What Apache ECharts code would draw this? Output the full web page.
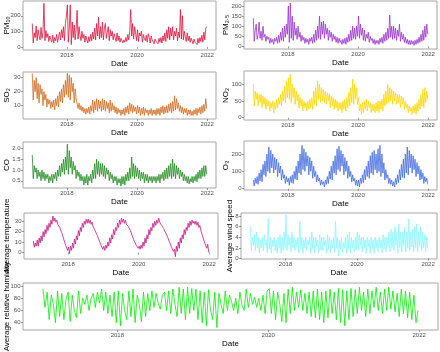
<!DOCTYPE html>
<html>
<head>
<meta charset="utf-8">
<script src="https://cdn.jsdelivr.net/npm/echarts@6/dist/echarts.min.js"></script>
<style>
  html, body { margin: 0; background: #fff; }
  #chart { width: 440px; height: 352px; }
</style>
</head>
<body>
<div id="chart"></div>
<script>
// readings every ~10 days, 2017-01 .. 2021-12 (36 per year)
const startYear = 2017
const stepsPerYear = 36
const yearTicks = [2018, 2020, 2022]

const pm10 = [
  150,25,90,60,135,40,110,70,45,125,55,95,280,40,105,60,85,35,70,50,30,75,25,60,40,80,30,65,95,45,110,60,130,40,150,200,
  270,30,120,270,15,160,60,140,45,110,235,50,130,75,40,100,55,80,30,70,45,25,65,35,80,40,95,50,120,45,150,70,190,50,130,60,
  160,45,120,150,55,95,130,40,110,70,100,45,85,60,35,90,40,70,30,55,60,25,45,30,60,35,80,45,100,240,70,150,50,130,90,40,
  110,35,90,70,100,30,80,55,40,75,30,85,60,25,70,45,55,20,50,35,45,20,55,30,60,25,70,40,90,35,110,55,130,45,120,70,
  130,45,100,70,120,40,95,60,240,50,200,45,100,65,35,90,40,70,30,55,45,20,50,30,40,15,55,25,60,35,75,30,95,45,120,130
]
const pm25 = [
  140,25,80,110,35,60,120,40,75,30,100,45,60,25,50,35,45,15,40,20,35,10,40,25,45,15,55,20,70,30,90,25,100,45,110,60,
  200,20,215,40,150,30,120,55,90,35,100,45,70,25,55,30,45,15,40,20,35,10,40,25,45,15,60,20,80,30,100,40,150,35,120,60,
  125,40,110,60,90,30,80,45,70,25,60,35,50,20,45,15,40,20,30,10,35,15,40,10,45,20,60,25,80,30,100,40,90,35,100,50,
  150,40,110,55,90,30,80,25,60,40,70,20,50,30,40,15,35,10,30,15,30,10,40,20,45,15,60,25,70,30,90,40,155,45,100,35,
  100,40,90,30,80,50,110,25,70,35,60,20,45,15,35,10,30,8,30,12,25,5,30,10,35,15,45,20,60,25,80,30,100,45,110,60
]
const so2 = [
  33,14,28,20,30,15,26,12,25,18,22,10,20,14,18,9,15,11,14,8,13,9,14,7,15,10,17,9,20,13,22,12,25,16,28,18,
  33,16,32,14,30,20,26,12,22,15,15,8,12,7,10,6,9,5,8,4,8,5,9,4,10,6,14,5,13,7,15,6,14,8,13,6,
  15,7,14,6,13,8,12,5,14,6,12,7,10,5,9,4,8,5,7,3,7,4,8,3,9,5,10,4,12,6,11,5,10,6,9,4,
  10,5,9,3,8,4,9,3,8,5,7,3,7,4,8,3,7,4,7,3,8,4,8,3,9,5,10,4,9,5,10,5,11,6,12,5,
  13,6,17,7,15,8,12,6,10,5,9,4,8,5,8,3,7,4,7,3,6,3,7,4,8,3,8,5,9,4,10,5,11,6,15,8
]
const no2 = [
  100,35,80,55,75,35,70,45,70,30,65,40,60,25,55,35,50,20,45,30,50,15,45,25,55,30,60,40,70,35,80,50,95,45,110,60,
  120,55,130,45,100,60,90,40,80,50,70,30,60,35,55,20,50,30,45,20,50,25,55,30,60,25,80,40,90,35,110,55,100,45,90,50,
  85,45,80,40,75,50,70,30,65,35,60,25,55,30,50,20,45,25,45,15,50,25,55,20,60,30,75,35,90,45,115,40,100,55,90,40,
  60,20,40,10,45,15,50,25,55,20,50,30,45,15,40,20,40,15,45,20,50,15,50,25,55,20,70,35,80,40,100,45,90,50,85,40,
  80,50,75,40,70,45,70,30,65,40,60,25,50,30,40,15,35,20,30,10,35,15,40,10,45,20,55,25,70,35,85,30,90,45,80,55
]
const co = [
  1.7,0.6,1.2,0.9,1.1,0.6,1.0,0.7,0.9,0.5,1.0,0.6,0.9,0.5,0.8,0.6,0.8,0.4,0.7,0.5,0.8,0.4,0.8,0.6,0.9,0.5,1.0,0.7,1.2,0.7,1.3,0.9,1.5,0.8,1.6,1.0,
  2.2,0.8,1.9,1.1,1.6,0.8,1.4,1.0,1.2,0.6,1.0,0.7,0.9,0.5,0.8,0.5,0.7,0.3,0.7,0.4,0.8,0.3,0.7,0.5,0.8,0.4,1.0,0.6,1.3,0.6,1.5,0.8,1.4,0.7,1.3,0.8,
  1.3,0.7,1.2,0.6,1.1,0.8,1.0,0.5,0.9,0.6,0.8,0.4,0.7,0.5,0.7,0.3,0.6,0.4,0.6,0.25,0.7,0.35,0.7,0.3,0.8,0.5,0.9,0.5,1.1,0.6,1.6,0.7,1.3,0.6,1.2,0.7,
  1.1,0.6,1.0,0.5,0.9,0.6,0.9,0.4,0.8,0.5,0.8,0.4,0.7,0.5,0.7,0.4,0.7,0.5,0.7,0.4,0.7,0.5,0.8,0.4,0.8,0.6,0.9,0.5,1.0,0.6,1.1,0.6,1.2,0.7,1.3,0.6,
  1.5,0.7,1.3,0.6,1.2,0.8,1.1,0.6,1.0,0.7,0.9,0.5,0.8,0.5,0.7,0.4,0.7,0.35,0.6,0.45,0.7,0.4,0.7,0.5,0.8,0.45,0.9,0.6,1.0,0.6,1.1,0.7,1.2,0.7,1.2,0.8
]
const o3 = [
  50,15,60,30,70,25,90,45,110,40,140,80,160,70,200,100,240,90,220,120,200,90,180,110,170,70,150,90,130,50,110,60,80,30,70,40,
  60,20,70,35,80,30,100,55,130,50,160,90,200,80,250,110,230,100,210,130,190,80,180,100,160,60,130,70,100,40,80,45,60,20,50,25,
  40,10,50,25,70,30,100,55,130,50,160,90,190,80,230,110,245,100,220,130,200,80,180,100,160,60,130,70,100,40,80,45,60,20,50,15,
  50,10,60,30,80,35,110,50,130,70,160,60,190,90,210,80,220,110,200,90,230,100,250,70,200,90,150,50,110,60,80,30,60,25,50,15,
  40,10,60,25,80,35,110,50,140,65,170,60,200,90,240,80,220,120,200,90,190,110,170,70,150,85,130,50,110,55,90,30,70,40,60,25
]
const temperature = [
  11,5,9,6,12,6,14,9,16,11,20,15,22,18,26,21,28,24,31,27,35,30,33,29,31,27,28,24,24,19,18,13,12,7,7,2,
  5,-1,6,2,9,4,13,8,16,12,21,16,24,20,28,24,30,27,32,28,32,28,31,27,29,25,26,21,22,17,17,12,12,7,7,3,
  6,2,7,4,10,6,14,9,17,13,22,17,24,21,28,24,31,27,33,29,32,28,31,27,28,25,25,21,21,16,16,11,12,7,8,4,
  6,3,7,4,10,6,14,9,17,13,22,17,24,21,28,24,30,26,31,28,33,29,30,26,27,23,24,19,20,15,15,10,10,5,5,1,
  3,-4,6,1,10,4,14,9,17,13,22,17,24,21,28,24,30,26,31,28,30,27,30,26,29,24,26,21,20,15,14,9,10,4,8,0
]
const windSpeed = [
  6,1.5,4,2.5,4.5,1.5,5,2,4,1,3.5,2,4,1.5,4.5,2.5,3.5,1,7.5,1.8,4,1,3.5,2.2,4,1.5,3.5,1,4,2,4.5,1,4,1.5,5,2,
  8.2,1.5,4.5,2.5,4,1.2,5,2,4,1.5,3.5,2.2,4,1,7,1.8,4,1,3.5,2,4,1.5,3.5,2.5,4,1,5,1.8,4,1,4,2.2,3.5,1,4.5,1.6,
  4,1.5,4,2.4,3.5,1,4.5,1.8,4,1,3.5,2,4,1.2,7,2,4,0.5,3.5,1.8,4,1.2,3,2,4,1,4.5,1.8,5,1,4,2,3.5,1.2,4,1.8,
  5,1.5,4.5,2.5,4,1.2,4,2,3.5,1,4,2.2,3.5,1,4,1.8,3.5,1,4,2,3.5,1.2,4,2,3.5,1,4.5,1.8,4,1.2,4,2.2,5,1.2,5.5,2,
  5,1.5,6,2.5,5,1,6.5,2,5,1.2,5,2.4,6,1.2,5,2,7.5,1.5,5,2.2,5.5,1.2,6,2,6.5,1.2,5,2.4,6,1.5,5,2,4.5,1.2,4,2
]
const humidity = [
  95,65,90,45,85,70,40,92,50,88,45,78,90,42,85,60,48,92,55,80,70,85,60,80,88,65,90,72,95,60,90,55,85,50,90,40,
  92,35,88,60,45,92,50,95,40,85,70,42,90,50,88,60,92,65,88,72,62,85,90,60,92,55,95,70,50,98,55,95,45,98,55,96,
  60,95,45,92,40,90,35,94,60,45,90,32,88,70,55,92,60,85,75,60,80,55,90,68,60,95,65,88,70,82,65,80,60,85,55,92,
  96,55,92,45,90,70,42,88,40,95,55,98,60,90,65,94,60,88,55,90,50,92,48,95,45,90,40,92,48,95,55,90,45,96,40,94,
  35,92,45,96,50,94,55,98,60,90,50,95,55,92,65,98,60,90,55,95,60,98,62,92,58,88,50,95,55,92,48,90,45,85,40,60
]

// panel boxes: [left, top, right, bottom] in px; gap = y title distance from the panel
const panels = [
  { title: 'PM₁₀', values: pm10, color: '#DC143C', box: [23, 1, 216, 50], gap: 12, yMin: -20, yMax: 295, yTicks: [0, 100, 200] },
  { title: 'PM₂.₅', values: pm25, color: '#9932CC', box: [244, 1, 437, 49], gap: 14, yMin: -13, yMax: 225, yTicks: [0, 50, 100, 150, 200] },
  { title: 'SO₂', values: so2, color: '#D2691E', box: [23, 72, 216, 119], gap: 12, yMin: 0.5, yMax: 34, yTicks: [10, 20, 30] },
  { title: 'NO₂', values: no2, color: '#FFD700', box: [244, 71, 437, 120], gap: 14, yMin: -7, yMax: 140, yTicks: [0, 50, 100] },
  { title: 'CO', values: co, color: '#228B22', box: [23, 142, 216, 188], gap: 12, yMin: 0.165, yMax: 2.3, yTicks: [0.5, 1.0, 1.5, 2.0], dec: 1 },
  { title: 'O₃', values: o3, color: '#4169E1', box: [244, 141, 437, 190], gap: 14, yMin: -7.5, yMax: 275, yTicks: [0, 100, 200] },
  { title: 'Average temperature', values: temperature, color: '#C71585', box: [24, 213, 218, 259], gap: 13, yMin: -6.3, yMax: 37.9, yTicks: [0, 10, 20, 30] },
  { title: 'Average wind speed', values: windSpeed, color: '#8CF5FF', box: [241, 213, 437, 259], gap: 7, yMin: -0.1, yMax: 8.56, yTicks: [0, 2, 4, 6, 8] },
  { title: 'Average relative humidity', values: humidity, color: '#00EE00', box: [23, 283, 438, 330], gap: 12, yMin: 28, yMax: 105, yTicks: [40, 60, 80, 100] }
]

const font = 'Liberation Sans, Arial, DejaVu Sans, sans-serif'
let grid = [], xAxis = [], yAxis = [], series = []

panels.forEach((p, i) => {
  let [l, t, r, b] = p.box
  grid.push({
    left: l, top: t, width: r - l, height: b - t,
    outerBoundsMode: 'none', containLabel: false,
    show: true, borderColor: '#a6a6a6', borderWidth: 1, backgroundColor: '#fff'
  })
  xAxis.push({
    gridIndex: i, type: 'value', min: 2016.75, max: 2022.25,
    name: 'Date', nameLocation: 'middle', nameGap: 10,
    nameTextStyle: { fontSize: 8, color: '#000', fontFamily: font },
    axisLine: { show: false },
    axisTick: { show: true, length: 2, lineStyle: { color: '#555', width: 0.6 }, customValues: yearTicks },
    axisLabel: { fontSize: 6, color: '#4d4d4d', margin: 2.5, fontFamily: font, customValues: yearTicks, formatter: v => String(v) },
    splitLine: { show: false }
  })
  yAxis.push({
    gridIndex: i, type: 'value', min: p.yMin, max: p.yMax,
    name: p.title, nameLocation: 'middle', nameGap: p.gap, nameRotate: 90,
    nameMoveOverlap: false,
    nameTextStyle: { fontSize: 8, color: '#000', fontFamily: font },
    axisLine: { show: false },
    axisTick: { show: true, length: 2, lineStyle: { color: '#555', width: 0.6 }, customValues: p.yTicks },
    axisLabel: {
      fontSize: 6, color: '#4d4d4d', margin: 2.5, fontFamily: font, customValues: p.yTicks,
      formatter: v => p.dec ? v.toFixed(p.dec) : String(v)
    },
    splitLine: { show: false }
  })
  series.push({
    type: 'line', xAxisIndex: i, yAxisIndex: i,
    data: p.values.map((v, k) => [startYear + (k + 0.5) / stepsPerYear, v]),
    showSymbol: false, silent: true,
    lineStyle: { color: p.color, width: 0.8 },
    itemStyle: { color: p.color }
  })
})

let chart = echarts.init(document.getElementById('chart'), null, { renderer: 'canvas' })
chart.setOption({
  animation: false,
  backgroundColor: '#fff',
  grid: grid,
  xAxis: xAxis,
  yAxis: yAxis,
  series: series
})
</script>
</body>
</html>
